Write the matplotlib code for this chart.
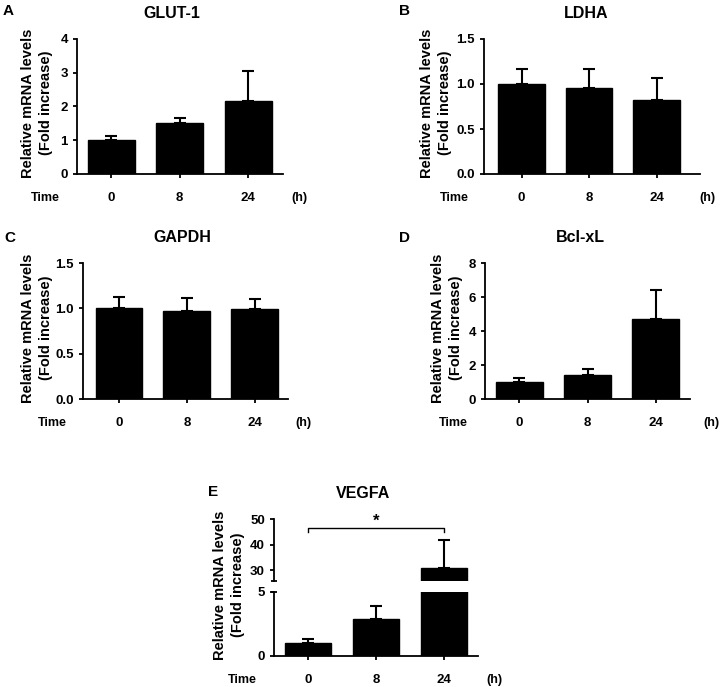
import matplotlib
matplotlib.use('Agg')
import matplotlib.pyplot as plt
import numpy as np

# values (mean fold increase and upper SD)
times = ['0', '8', '24']
glut1_mean = [1.0, 1.52, 2.15]
glut1_err = [0.13, 0.13, 0.90]
ldha_mean = [1.0, 0.95, 0.82]
ldha_err = [0.17, 0.22, 0.25]
gapdh_mean = [1.0, 0.97, 0.99]
gapdh_err = [0.12, 0.14, 0.11]
bclxl_mean = [1.0, 1.42, 4.7]
bclxl_err = [0.22, 0.32, 1.74]
vegfa_mean = [1.05, 2.9, 30.9]
vegfa_err = [0.27, 0.97, 10.8]

W, H = 720, 687
plt.rcParams['font.family'] = ['Liberation Sans', 'DejaVu Sans']
plt.rcParams['font.weight'] = 'bold'

fig = plt.figure(figsize=(7.2, 6.87), dpi=100)
LW = 1.3
TICK_LEN = 3
TICK_PAD = 10
ROW_OFF = TICK_LEN / 72 * 100 + TICK_PAD / 72 * 100  # pixels below axis


def rect(l, t, r, b):
    return [l / W, 1 - b / H, (r - l) / W, (b - t) / H]


def style(ax, xlim, bottom=True):
    ax.spines['top'].set_visible(False)
    ax.spines['right'].set_visible(False)
    ax.spines['left'].set_linewidth(LW)
    ax.spines['bottom'].set_linewidth(LW)
    ax.tick_params(axis='both', width=LW, length=TICK_LEN, labelsize=9.5)
    ax.tick_params(axis='x', pad=TICK_PAD)
    ax.set_xlim(*xlim)
    if not bottom:
        ax.spines['bottom'].set_visible(False)
        ax.tick_params(axis='x', bottom=False, labelbottom=False)
    else:
        ax.set_xticks(range(len(times)))
        ax.set_xticklabels(times)


def bars(ax, mean, err):
    x = np.arange(len(times))
    ax.bar(x, mean, width=0.69, color='black', edgecolor='black', zorder=2)
    ax.errorbar(x, mean, yerr=[np.zeros(len(err)), err], fmt='none',
                ecolor='black', elinewidth=1.5, capsize=4.5, capthick=1.5, zorder=3)


def time_row(ax, x_time, x_h):
    for xv, s in [(x_time, 'Time'), (x_h, '(h)')]:
        ax.annotate(s, xy=(xv, 0), xycoords=('data', 'axes fraction'),
                    xytext=(0, -ROW_OFF), textcoords='offset pixels',
                    ha='center', va='top', fontsize=9, fontweight='bold',
                    annotation_clip=False)


def break_cap(ax, y):
    # small cross-bar where the broken axis ends
    ax.plot([0], [y], marker='_', ms=5, mew=LW, color='black',
            transform=ax.transAxes, clip_on=False)


def fig_text(x, y, s, **kw):
    fig.text(x / W, 1 - y / H, s, ha='center', va='center', fontweight='bold', **kw)


ylab = 'Relative mRNA levels\n(Fold increase)'

# A  GLUT-1
axA = fig.add_axes(rect(77, 39, 282.5, 174))
style(axA, (-0.5, 2.5))
bars(axA, glut1_mean, glut1_err)
axA.set_ylim(0, 4)
axA.set_yticks([0, 1, 2, 3, 4])
time_row(axA, -0.96, 2.75)

# B  LDHA
axB = fig.add_axes(rect(484, 39, 700, 174))
style(axB, (-0.556, 2.644))
bars(axB, ldha_mean, ldha_err)
axB.set_ylim(0, 1.5)
axB.set_yticks([0, 0.5, 1.0, 1.5])
axB.set_yticklabels(['0.0', '0.5', '1.0', '1.5'])
time_row(axB, -1.0, 2.75)

# C  GAPDH
axC = fig.add_axes(rect(83, 263, 288, 399))
style(axC, (-0.53, 2.49))
bars(axC, gapdh_mean, gapdh_err)
axC.set_ylim(0, 1.5)
axC.set_yticks([0, 0.5, 1.0, 1.5])
axC.set_yticklabels(['0.0', '0.5', '1.0', '1.5'])
time_row(axC, -0.98, 2.72)

# D  Bcl-xL
axD = fig.add_axes(rect(485, 263, 690, 399))
style(axD, (-0.5, 2.5))
bars(axD, bclxl_mean, bclxl_err)
axD.set_ylim(0, 8)
axD.set_yticks([0, 2, 4, 6, 8])
time_row(axD, -0.96, 2.82)

# E  VEGFA, broken y axis
axE = fig.add_axes(rect(274, 592, 478, 656))
style(axE, (-0.5, 2.5))
bars(axE, vegfa_mean, vegfa_err)
axE.set_ylim(0, 5)
axE.set_yticks([0, 5])
break_cap(axE, 1)
time_row(axE, -0.96, 2.74)

axE2 = fig.add_axes(rect(274, 519, 478, 581))
style(axE2, (-0.5, 2.5), bottom=False)
bars(axE2, vegfa_mean, vegfa_err)
axE2.set_ylim(25.7, 50)
axE2.set_yticks([30, 40, 50])
break_cap(axE2, 0)
axE2.plot([0, 0, 2, 2], [44.9, 46.5, 46.5, 44.9], color='black', lw=1.0, clip_on=False)
axE2.text(1, 49.2, '*', ha='center', va='center', fontsize=12, fontweight='bold', clip_on=False)

# titles, panel letters, y labels
for x, y, s in [(172, 13, 'GLUT-1'), (586, 13, 'LDHA'), (182, 237, 'GAPDH'),
                (580, 237, 'Bcl-xL'), (363, 493, 'VEGFA')]:
    fig_text(x, y, s, fontsize=11.5)
for x, y, s in [(8, 11, 'A'), (404, 11, 'B'), (10, 238, 'C'), (404, 238, 'D'), (213, 492, 'E')]:
    fig_text(x, y, s, fontsize=11)
for x, y in [(37, 103), (436, 103), (37, 328), (447, 328), (229, 585)]:
    fig_text(x, y, ylab, fontsize=10.5, rotation=90, multialignment='center', linespacing=1.35)

fig.savefig('out.png', dpi=100)
